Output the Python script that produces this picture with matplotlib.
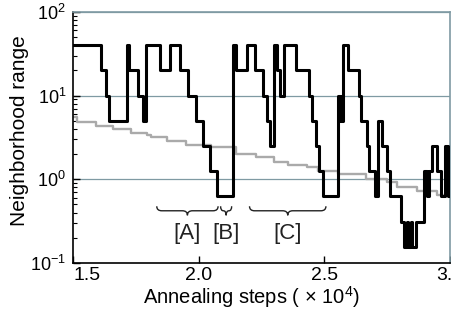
import matplotlib
matplotlib.use('Agg')
import matplotlib.pyplot as plt
import matplotlib.transforms as mtransforms
from matplotlib.path import Path
from matplotlib.patches import PathPatch
import numpy as np

plt.rcParams['font.family'] = ['Liberation Sans', 'DejaVu Sans']
plt.rcParams['mathtext.fontset'] = 'custom'
plt.rcParams['mathtext.rm'] = 'Liberation Sans'
plt.rcParams['mathtext.it'] = 'Liberation Sans'

# black trace: step start positions (x1e4 steps) and neighborhood range
black_x = [1.500, 1.613, 1.631, 1.643, 1.714, 1.724, 1.760, 1.778, 1.792, 1.847,
           1.885, 1.927, 1.958, 1.988, 2.017, 2.044, 2.074, 2.135, 2.147, 2.192,
           2.222, 2.256, 2.270, 2.282, 2.300, 2.311, 2.325, 2.339, 2.387, 2.440,
           2.450, 2.467, 2.480, 2.493, 2.554, 2.560, 2.565, 2.571, 2.575, 2.595,
           2.639, 2.647, 2.671, 2.679, 2.702, 2.712, 2.731, 2.750, 2.762, 2.804,
           2.817, 2.829, 2.833, 2.845, 2.849, 2.865, 2.895, 2.910, 2.917, 2.927,
           2.947, 2.963, 2.980, 2.992, 3.000]
black_y = [40, 20, 10, 5, 40, 20, 10, 5, 40, 20,
           40, 20, 10, 5, 2.5, 1.25, 0.625, 40, 20, 40,
           20, 10, 5, 2.5, 40, 20, 10, 40, 20, 10,
           5, 2.5, 1.25, 0.625, 10, 5, 10, 5, 40, 20,
           10, 5, 2.5, 1.25, 0.625, 5, 2.5, 1.25, 0.625, 0.3125,
           0.156, 0.3125, 0.156, 0.3125, 0.156, 0.3125, 1.25, 0.625, 1.25, 2.5,
           1.25, 0.625, 2.5, 0.625, 0.625]

# gray trace
gray_x = [1.500, 1.517, 1.591, 1.659, 1.730, 1.796, 1.812, 1.875, 1.948, 2.048,
          2.147, 2.226, 2.298, 2.357, 2.429, 2.476, 2.556, 2.667, 2.748, 2.788,
          2.867, 2.946, 3.000]
gray_y = [5.5, 4.9, 4.37, 3.99, 3.57, 3.35, 3.2, 2.89, 2.59, 2.4,
          2.02, 1.85, 1.63, 1.49, 1.40, 1.24, 1.16, 1.0, 0.94, 0.82,
          0.73, 0.65, 0.65]

# braces
brace_labels = ['[A]', '[B]', '[C]']
brace_left = [1.833, 2.087, 2.202]
brace_right = [2.077, 2.131, 2.506]

fig = plt.figure(figsize=(4.51, 3.12), dpi=100)
ax = fig.add_axes([0.162, 0.157, 0.836, 0.805])

grid_col = '#7f9aa3'
for v in [1, 10, 100]:
    ax.axhline(v, color=grid_col, lw=0.9, zorder=1)

ax.step(gray_x, gray_y, where='post', color='#aaaaaa', lw=1.7, zorder=2)
ax.step(black_x, black_y, where='post', color='black', lw=2.2, zorder=3)

ax.set_yscale('log')
ax.set_ylim(0.1, 100)
ax.set_xlim(1.5, 3.0)
ax.set_xticks([1.5, 2.0, 2.5, 3.0])
ax.set_xticklabels(['1.5', '2.0', '2.5', '3.0'])
ax.get_xticklabels()[0].set_horizontalalignment('left')
ax.set_yticks([0.1, 1, 10, 100])
ax.set_yticklabels([r'10$^{-1}$', r'10$^{0}$', r'10$^{1}$', r'10$^{2}$'])

ax.tick_params(axis='both', which='both', direction='in', right=False, top=False)
ax.tick_params(axis='x', labelsize=14, pad=3)
ax.tick_params(axis='y', labelsize=13, pad=5)
ax.tick_params(axis='both', which='major', length=5, width=1)
ax.tick_params(axis='y', which='minor', length=3, width=0.8)

for s in ['left', 'bottom']:
    ax.spines[s].set_color('black')
    ax.spines[s].set_linewidth(1.2)
for s in ['top', 'right']:
    ax.spines[s].set_color(grid_col)
    ax.spines[s].set_linewidth(1.2)

ax.set_xlabel(r'Annealing steps ( $\times$ 10$^4$)', fontsize=14.5)
ax.xaxis.label.set_verticalalignment('center')
ax.xaxis.set_label_coords(0.472, -0.136)
ax.set_ylabel('Neighborhood range', fontsize=15)
ax.yaxis.label.set_verticalalignment('center')
ax.yaxis.set_label_coords(-0.141, 0.526)

# curly braces: x in data, y in axes fraction
trans = mtransforms.blended_transform_factory(ax.transData, ax.transAxes)
yt, yb = 0.226, 0.190
ym = (yt + yb) / 2
for lab, x0, x1 in zip(brace_labels, brace_left, brace_right):
    xc = (x0 + x1) / 2
    r = min(0.02, (x1 - x0) / 4)
    verts = [(x0, yt), (x0, ym), (x0 + r, ym), (xc - r, ym), (xc, ym), (xc, yb),
             (xc, ym), (xc + r, ym), (x1 - r, ym), (x1, ym), (x1, yt)]
    codes = [Path.MOVETO, Path.CURVE3, Path.CURVE3, Path.LINETO, Path.CURVE3,
             Path.CURVE3, Path.CURVE3, Path.CURVE3, Path.LINETO, Path.CURVE3,
             Path.CURVE3]
    ax.add_patch(PathPatch(Path(verts, codes), transform=trans, fill=False,
                           lw=1.0, color='#222222', zorder=4))
    ax.text(xc, 0.118, lab, transform=trans, ha='center', va='center',
            fontsize=16, color='#222222')

fig.savefig('out.png', dpi=100)
